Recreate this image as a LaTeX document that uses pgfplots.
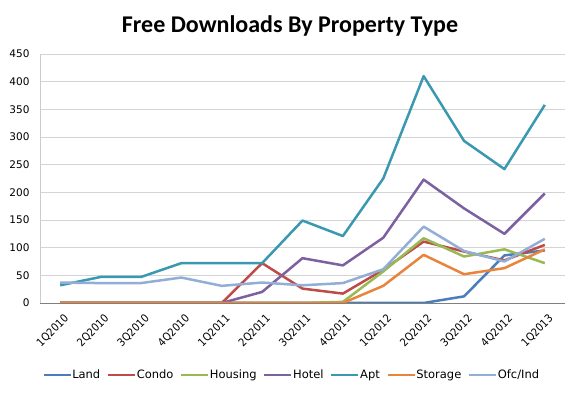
\documentclass[border=0pt]{standalone}
\usepackage{pgfplots}
\pgfplotsset{compat=1.18}
\usepackage{fontspec}
\setmainfont{DejaVu Sans}
\newfontfamily\titlefont{Carlito}
\newfontfamily\condfont{DejaVu Sans Condensed}
\definecolor{cLand}{HTML}{4A7EBB}
\definecolor{cCondo}{HTML}{BE4B48}
\definecolor{cHousing}{HTML}{98B954}
\definecolor{cHotel}{HTML}{7D60A0}
\definecolor{cApt}{HTML}{3A98B0}
\definecolor{cStorage}{HTML}{E8853A}
\definecolor{cOfc}{HTML}{93AED6}
\begin{document}
\begin{tikzpicture}
\path[use as bounding box] (0,0) rectangle (576pt,-395pt);
\node[font=\titlefont\bfseries\fontsize{24}{28}\selectfont, anchor=base] at (290pt,-33pt) {Free Downloads By Property Type};
\begin{axis}[
  at={(40pt,-303pt)}, anchor=south west,
  scale only axis, width=525pt, height=249pt,
  xmin=-0.5, xmax=12.5, ymin=0, ymax=450,
  ytick={0,50,...,450},
  xtick={0,...,12},
  xticklabels={1Q2010,2Q2010,3Q2010,4Q2010,1Q2011,2Q2011,3Q2011,4Q2011,1Q2012,2Q2012,3Q2012,4Q2012,1Q2013},
  x tick label style={xshift=3pt, yshift=-9pt, rotate=45, anchor=north east, inner sep=1pt, font=\condfont\fontsize{11}{12}\selectfont},
  y tick label style={xshift=-7pt, font=\fontsize{10.5}{12}\selectfont},
  /pgf/number format/assume math mode=true,
  major tick length=0pt,
  ymajorgrids, grid style={color=black!17, line width=0.8pt},
  axis x line*=bottom, axis y line*=left,
  x axis line style={color=black!50, line width=0.8pt, -},
  y axis line style={color=black!20, line width=0.8pt, -},
  legend columns=7,
  legend style={at={(0.478,-0.29)}, anchor=center, draw=none, font=\fontsize{11.5}{13}\selectfont, inner sep=0pt,
    nodes={inner xsep=0.5pt}, column sep=0pt, /tikz/every even column/.append style={column sep=6pt}},
  legend image code/.code={\draw[#1, line width=2.5pt] (0pt,0pt) -- (27pt,0pt);},
  every axis plot/.append style={line width=2.5pt, no markers, line join=round},
]
\addplot[cLand] coordinates {(0,0)(1,0)(2,0)(3,0)(4,0)(5,0)(6,0)(7,0)(8,0)(9,0)(10,12)(11,86)(12,95)};
\addlegendentry{Land}
\addplot[cCondo] coordinates {(0,0)(1,0)(2,0)(3,0)(4,0)(5,72)(6,26)(7,17)(8,60)(9,111)(10,93)(11,77)(12,105)};
\addlegendentry{Condo}
\addplot[cHousing] coordinates {(0,0)(1,0)(2,0)(3,0)(4,0)(5,0)(6,0)(7,2)(8,57)(9,117)(10,84)(11,97)(12,72)};
\addlegendentry{Housing}
\addplot[cHotel] coordinates {(0,0)(1,0)(2,0)(3,0)(4,0)(5,20)(6,81)(7,68)(8,118)(9,223)(10,171)(11,125)(12,198)};
\addlegendentry{Hotel}
\addplot[cApt] coordinates {(0,32)(1,47)(2,47)(3,72)(4,72)(5,72)(6,149)(7,121)(8,225)(9,410)(10,293)(11,242)(12,358)};
\addlegendentry{Apt}
\addplot[cStorage] coordinates {(0,0)(1,0)(2,0)(3,0)(4,0)(5,0)(6,0)(7,0)(8,31)(9,87)(10,52)(11,63)(12,97)};
\addlegendentry{Storage}
\addplot[cOfc] coordinates {(0,37)(1,36)(2,36)(3,46)(4,31)(5,37)(6,32)(7,36)(8,61)(9,138)(10,94)(11,75)(12,116)};
\addlegendentry{Ofc/Ind}
\end{axis}
\end{tikzpicture}
\end{document}
